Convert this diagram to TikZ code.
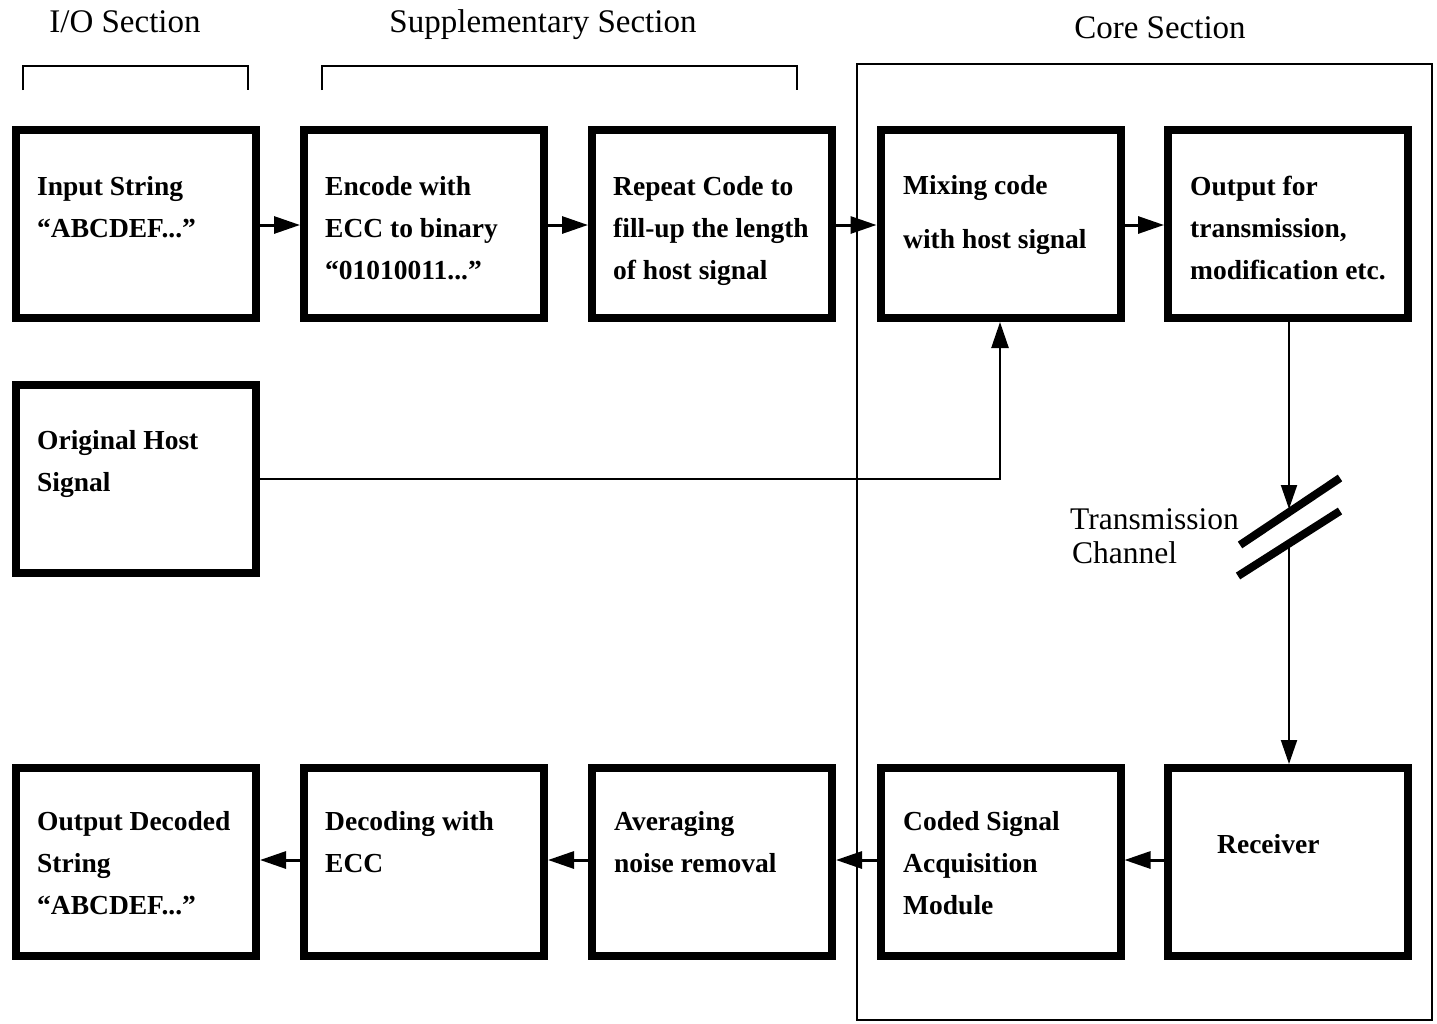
\documentclass[tikz,border=0pt]{standalone}
\usepackage{fontspec}
\setmainfont{Liberation Serif}
\usetikzlibrary{arrows.meta}
% top-aligned paragraph: the node's baseline is that of the first line
\newcommand\blocktext[1]{\parbox[t]{235pt}{\raggedright #1}}
\begin{document}
\begin{tikzpicture}[x=1pt,y=-1pt,
  blk/.style={draw, line width=8pt, minimum width=240pt, minimum height=188pt, inner sep=0pt},
  lbl/.style={anchor=base west, inner sep=0pt, font=\fontsize{27.5}{42}\selectfont\bfseries},
  head/.style={anchor=base, inner sep=0pt, font=\fontsize{33}{38}\selectfont},
  chlbl/.style={anchor=base west, inner sep=0pt, font=\fontsize{31.5}{29}\selectfont},
  flow/.style={line width=3pt, -{Triangle[length=26pt,width=17pt]}},
  thinflow/.style={line width=2pt, -{Triangle[length=24pt,width=16pt]}},
  frame/.style={line width=2pt},
  chan/.style={line width=8pt}]
\useasboundingbox (0,0) rectangle (1437,1023);

% section headings and brackets
\node[head] (hio) at (125,32) {I/O Section};
\node[head] (hsup) at (543,32) {Supplementary Section};
\node[head] (hcore) at (1160,38) {Core Section};
\draw[frame] (23,90) -- (23,66) -- (248,66) -- (248,90);
\draw[frame] (322,90) -- (322,66) -- (797,66) -- (797,90);
\draw[frame] (857,64) rectangle (1432,1020);

% top row
\node[blk] (inp) at (136,224) {};
\node[blk] (enc) at (424,224) {};
\node[blk] (rep) at (712,224) {};
\node[blk] (mix) at (1000.5,224) {};
\node[blk] (out) at (1288,224) {};
% host signal
\node[blk] (host) at (136,479) {};
% bottom row
\node[blk] (dout) at (136,862) {};
\node[blk] (dec) at (424,862) {};
\node[blk] (avg) at (712,862) {};
\node[blk] (acq) at (1000.5,862) {};
\node[blk] (rcv) at (1288,862) {};

% block labels
\node[lbl] (tinp) at (37,195) {\blocktext{Input String\\“ABCDEF...”}};
\node[lbl] (tenc) at (325,195) {\blocktext{Encode with\\ECC to binary\\“01010011...”}};
\node[lbl] (trep) at (613,195) {\blocktext{Repeat Code to\\fill-up the length\\of host signal}};
\node[lbl] (tmix) at (903,194) {\blocktext{Mixing code\\[12pt] with host signal}};
\node[lbl] (tout) at (1190,195) {\blocktext{Output for\\transmission,\\modification etc.}};
\node[lbl] (thost) at (37,449) {\blocktext{Original Host\\Signal}};
\node[lbl] (tdout) at (37,830) {\blocktext{Output Decoded\\String\\“ABCDEF...”}};
\node[lbl] (tdec) at (325,830) {\blocktext{Decoding with\\ECC}};
\node[lbl] (tavg) at (614,830) {\blocktext{Averaging\\noise removal}};
\node[lbl] (tacq) at (903,830) {\blocktext{Coded Signal\\Acquisition\\Module}};
\node[lbl] (trcv) at (1217,853) {Receiver};

% forward path
\draw[flow] (inp.east |- 0,225) -- (enc.west |- 0,225);
\draw[flow] (enc.east |- 0,225) -- (rep.west |- 0,225);
\draw[flow] (rep.east |- 0,225) -- (mix.west |- 0,225);
\draw[flow] (mix.east |- 0,225) -- (out.west |- 0,225);
\draw[line width=2.5pt, -{Triangle[length=26pt,width=17pt]}]
  (host.east |- 0,479) -- (1000,479) -- (mix.south -| 1000,0);

% transmission channel
\coordinate (c1a) at (1240,545);
\coordinate (c1b) at (1340,478);
\coordinate (c2a) at (1238,576);
\coordinate (c2b) at (1340,511);
\draw[chan] (c1a) -- (c1b);
\draw[chan] (c2a) -- (c2b);
\coordinate (chin) at (1289,509);
\coordinate (chout) at (1289,543);
\draw[thinflow] (out.south -| 1289,0) -- (chin);
\draw[thinflow] (chout) -- (rcv.north -| 1289,0);
\node[chlbl] (tch1) at (1070,529) {Transmission};
\node[chlbl] (tch2) at (1072,563) {Channel};

% return path
\draw[flow] (rcv.west |- 0,860) -- (acq.east |- 0,860);
\draw[flow] (acq.west |- 0,860) -- (avg.east |- 0,860);
\draw[flow] (avg.west |- 0,860) -- (dec.east |- 0,860);
\draw[flow] (dec.west |- 0,860) -- (dout.east |- 0,860);
\end{tikzpicture}
\end{document}
